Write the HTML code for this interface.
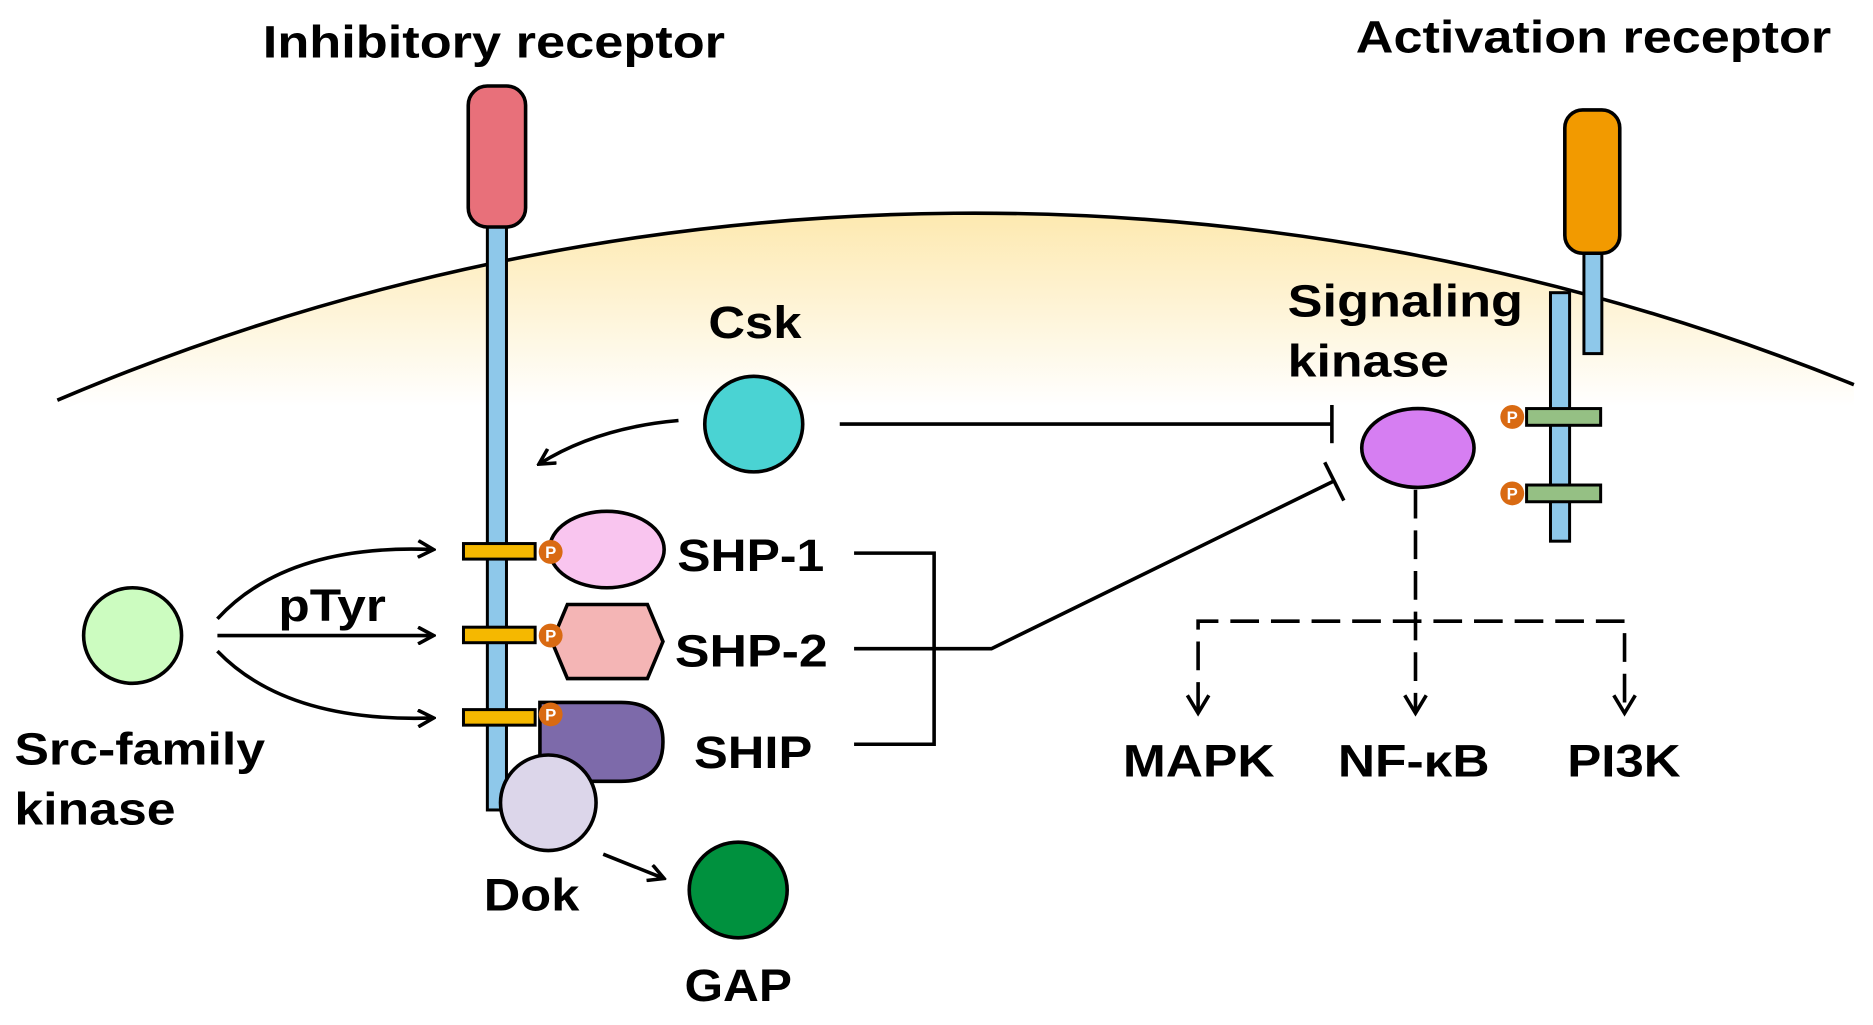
<!DOCTYPE html>
<html><head><meta charset="utf-8"><style>html,body{margin:0;padding:0;background:#fff}svg{display:block}</style></head>
<body>
<svg width="1873" height="1025" viewBox="0 0 1568 858" preserveAspectRatio="none" xmlns="http://www.w3.org/2000/svg" font-family="Liberation Sans, Arial, sans-serif" font-weight="bold">
<defs>
<linearGradient id="mem" gradientUnits="userSpaceOnUse" x1="0" y1="180" x2="0" y2="340">
<stop offset="0" stop-color="#fde9b0"/><stop offset="1" stop-color="#ffffff"/>
</linearGradient>
<marker id="ar" markerWidth="16" markerHeight="16" refX="13" refY="8" orient="auto" markerUnits="userSpaceOnUse"><path d="M1,1 L14,8 L1,15" fill="none" stroke="#000" stroke-width="3"/></marker>
</defs>
<path d="M48,335 A1960,1960 0 0 1 1552,322 L1552,340 L48,340 Z" fill="url(#mem)"/>
<path d="M48,335 A1960,1960 0 0 1 1552,322" fill="none" stroke="#000" stroke-width="3"/>
<text x="220" y="48" font-size="38" textLength="387" lengthAdjust="spacingAndGlyphs">Inhibitory receptor</text>
<text x="1135" y="44" font-size="38" textLength="398" lengthAdjust="spacingAndGlyphs">Activation receptor</text>
<!-- inhibitory receptor -->
<rect x="408" y="185" width="16" height="493" fill="#8ec8ea" stroke="#000" stroke-width="2.5"/>
<rect x="392" y="72" width="48" height="118" rx="16" fill="#e8707a" stroke="#000" stroke-width="3"/>
<!-- activation receptor -->
<rect x="1326" y="205" width="15" height="91" fill="#8ec8ea" stroke="#000" stroke-width="2.5"/>
<rect x="1310" y="92" width="46" height="120" rx="15" fill="#f29a00" stroke="#000" stroke-width="3"/>
<rect x="1298" y="245" width="16" height="208" fill="#8ec8ea" stroke="#000" stroke-width="2.5"/>
<rect x="1278" y="342" width="62" height="14" fill="#95c084" stroke="#000" stroke-width="2.5"/>
<rect x="1278" y="406" width="62" height="14" fill="#95c084" stroke="#000" stroke-width="2.5"/>
<g font-size="14" fill="#fff" text-anchor="middle">
<circle cx="1266" cy="349" r="10" fill="#d96a12"/><text x="1266" y="354">P</text>
<circle cx="1266" cy="413" r="10" fill="#d96a12"/><text x="1266" y="418">P</text>
</g>
<!-- Csk -->
<text x="593" y="283" font-size="38" textLength="78" lengthAdjust="spacingAndGlyphs">Csk</text>
<ellipse cx="631" cy="355" rx="41" ry="40" fill="#4ad3d3" stroke="#000" stroke-width="3"/>
<path d="M568,352 Q500,358 452,388" fill="none" stroke="#000" stroke-width="3" marker-end="url(#ar)"/>
<line x1="703" y1="355" x2="1115" y2="355" stroke="#000" stroke-width="3"/>
<line x1="1115" y1="339" x2="1115" y2="371" stroke="#000" stroke-width="3"/>
<!-- signaling kinase -->
<text x="1078" y="265" font-size="38" textLength="197" lengthAdjust="spacingAndGlyphs">Signaling</text>
<text x="1078" y="315" font-size="38" textLength="135" lengthAdjust="spacingAndGlyphs">kinase</text>
<ellipse cx="1187" cy="375" rx="47" ry="33" fill="#d67ef2" stroke="#000" stroke-width="3"/>
<g stroke="#000" stroke-width="3" fill="none" stroke-dasharray="24,10">
<line x1="1185" y1="410" x2="1185" y2="595"/>
<path d="M1003,595 L1003,520 L1360,520 L1360,595"/>
</g>
<g stroke="#000" stroke-width="3" fill="none">
<path d="M994,582 L1003,597 L1012,582"/><path d="M1176,582 L1185,597 L1194,582"/><path d="M1351,582 L1360,597 L1369,582"/>
</g>
<g font-size="38">
<text x="940" y="650" textLength="127" lengthAdjust="spacingAndGlyphs">MAPK</text>
<text x="1120" y="650" textLength="127" lengthAdjust="spacingAndGlyphs">NF-κB</text>
<text x="1312" y="650" textLength="95" lengthAdjust="spacingAndGlyphs">PI3K</text>
</g>
<!-- SHP etc -->
<ellipse cx="508" cy="460" rx="48" ry="32" fill="#f9c5ef" stroke="#000" stroke-width="3"/>
<polygon points="475,506 542,506 555,537 542,568 475,568 462,537" fill="#f4b5b5" stroke="#000" stroke-width="3"/>
<path d="M452,588 L520,588 Q555,588 555,621 Q555,654 520,654 L452,654 Z" fill="#7d6aaa" stroke="#000" stroke-width="3"/>
<circle cx="459" cy="672" r="40" fill="#dcd6ea" stroke="#000" stroke-width="3"/>
<rect x="388" y="455" width="60" height="13" fill="#f5b800" stroke="#000" stroke-width="2.5"/>
<rect x="388" y="525" width="60" height="13" fill="#f5b800" stroke="#000" stroke-width="2.5"/>
<rect x="388" y="594" width="60" height="13" fill="#f5b800" stroke="#000" stroke-width="2.5"/>
<g font-size="14" fill="#fff" text-anchor="middle">
<circle cx="461" cy="462" r="10" fill="#d96a12"/><text x="461" y="467">P</text>
<circle cx="461" cy="532" r="10" fill="#d96a12"/><text x="461" y="537">P</text>
<circle cx="461" cy="598" r="10" fill="#d96a12"/><text x="461" y="603">P</text>
</g>
<g font-size="38">
<text x="567" y="478" textLength="123" lengthAdjust="spacingAndGlyphs">SHP-1</text>
<text x="565" y="558" textLength="128" lengthAdjust="spacingAndGlyphs">SHP-2</text>
<text x="581" y="643" textLength="99" lengthAdjust="spacingAndGlyphs">SHIP</text>
</g>
<g stroke="#000" stroke-width="3" fill="none">
<path d="M715,463 L782,463 L782,623 L715,623"/>
<path d="M715,543 L830,543 L1118,402"/>
<line x1="1109" y1="387" x2="1125" y2="419"/>
</g>
<!-- Src -->
<ellipse cx="111" cy="532" rx="41" ry="40" fill="#ccfcc0" stroke="#000" stroke-width="3"/>
<text x="12" y="640" font-size="38" textLength="210" lengthAdjust="spacingAndGlyphs">Src-family</text>
<text x="12" y="690" font-size="38" textLength="135" lengthAdjust="spacingAndGlyphs">kinase</text>
<text x="233" y="520" font-size="38" textLength="90" lengthAdjust="spacingAndGlyphs">pTyr</text>
<g stroke="#000" stroke-width="3" fill="none" marker-end="url(#ar)">
<path d="M182,518 Q240,455 362,460"/>
<line x1="182" y1="532" x2="362" y2="532"/>
<path d="M182,545 Q240,605 362,601"/>
<line x1="505" y1="715" x2="555" y2="735"/>
</g>
<text x="405" y="762" font-size="38" textLength="80" lengthAdjust="spacingAndGlyphs">Dok</text>
<ellipse cx="618" cy="745" rx="41" ry="40" fill="#00913e" stroke="#000" stroke-width="3"/>
<text x="573" y="838" font-size="38" textLength="90" lengthAdjust="spacingAndGlyphs">GAP</text>
</svg>
</body></html>
